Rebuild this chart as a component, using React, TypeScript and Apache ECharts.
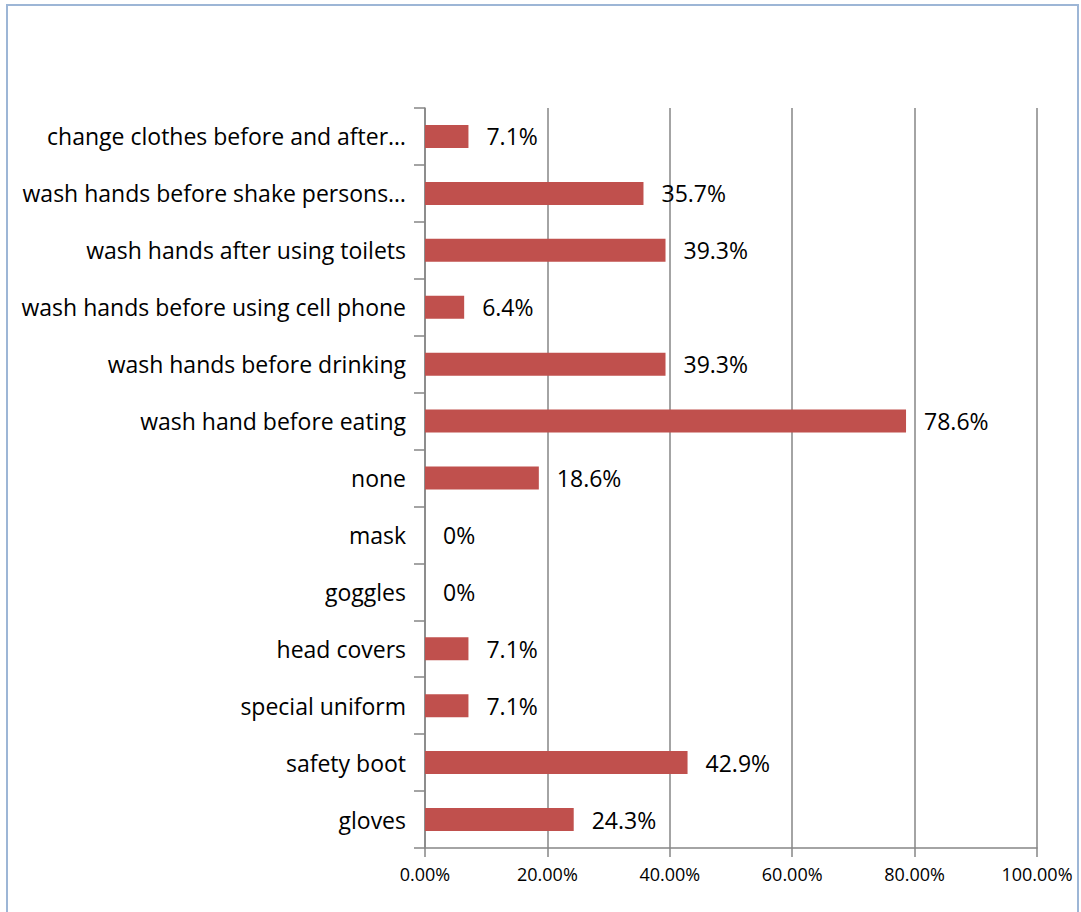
import React, { useEffect, useRef } from "react";
import * as echarts from "echarts";

// bottom to top
const categories = [
  "gloves",
  "safety boot",
  "special uniform",
  "head covers",
  "goggles",
  "mask",
  "none",
  "wash hand before eating",
  "wash hands before drinking",
  "wash hands before using cell phone",
  "wash hands after using toilets",
  "wash hands before shake persons…",
  "change clothes before and after…",
];
const values = [24.3, 42.9, 7.1, 7.1, 0, 0, 18.6, 78.6, 39.3, 6.4, 39.3, 35.7, 7.1];
const xTicks = [0, 20, 40, 60, 80, 100];

const FONT = "'Open Sans', Lato, sans-serif";

export default function App() {
  const ref = useRef<HTMLDivElement>(null);
  useEffect(() => {
    if (!ref.current) return;
    const chart = echarts.init(ref.current, null, { renderer: "svg" });
    chart.setOption({
      animation: false,
      backgroundColor: "#ffffff",
      graphic: [
        {
          type: "rect",
          shape: { x: 7, y: 5, width: 1071, height: 920 },
          style: { fill: "none", stroke: "#9db6d6", lineWidth: 2 },
          silent: true,
        },
      ],
      grid: { left: 425, right: 44, top: 108, bottom: 64, containLabel: false },
      xAxis: {
        type: "value",
        min: xTicks[0],
        max: xTicks[xTicks.length - 1],
        interval: 20,
        axisLine: { show: true, lineStyle: { color: "#868686", width: 1.5 } },
        axisTick: { show: true, length: 9, lineStyle: { color: "#868686", width: 1.5 } },
        splitLine: { show: true, lineStyle: { color: "#868686", width: 1.5 } },
        axisLabel: {
          color: "#000",
          fontFamily: FONT,
          fontSize: 18,
          margin: 17,
          formatter: (v: number) => v.toFixed(2) + "%",
        },
      },
      yAxis: {
        type: "category",
        data: categories,
        axisLine: { show: true, lineStyle: { color: "#868686", width: 1.5 } },
        axisTick: { show: true, length: 11, inside: false, lineStyle: { color: "#868686", width: 1.5 } },
        axisLabel: {
          color: "#000",
          fontFamily: FONT,
          fontSize: 23,
          margin: 19,
        },
        splitLine: { show: false },
      },
      series: [
        {
          type: "bar",
          data: values,
          barWidth: 23,
          itemStyle: { color: "#c0504d" },
          label: {
            show: true,
            position: "right",
            distance: 18,
            color: "#000",
            fontFamily: FONT,
            fontSize: 23,
            formatter: (p: any) => p.value + "%",
          },
        },
      ],
    });
    return () => chart.dispose();
  }, []);
  return (
    <div
      ref={ref}
      style={{ position: "absolute", left: 0, top: 0, width: 1081, height: 912 }}
    />
  );
}
